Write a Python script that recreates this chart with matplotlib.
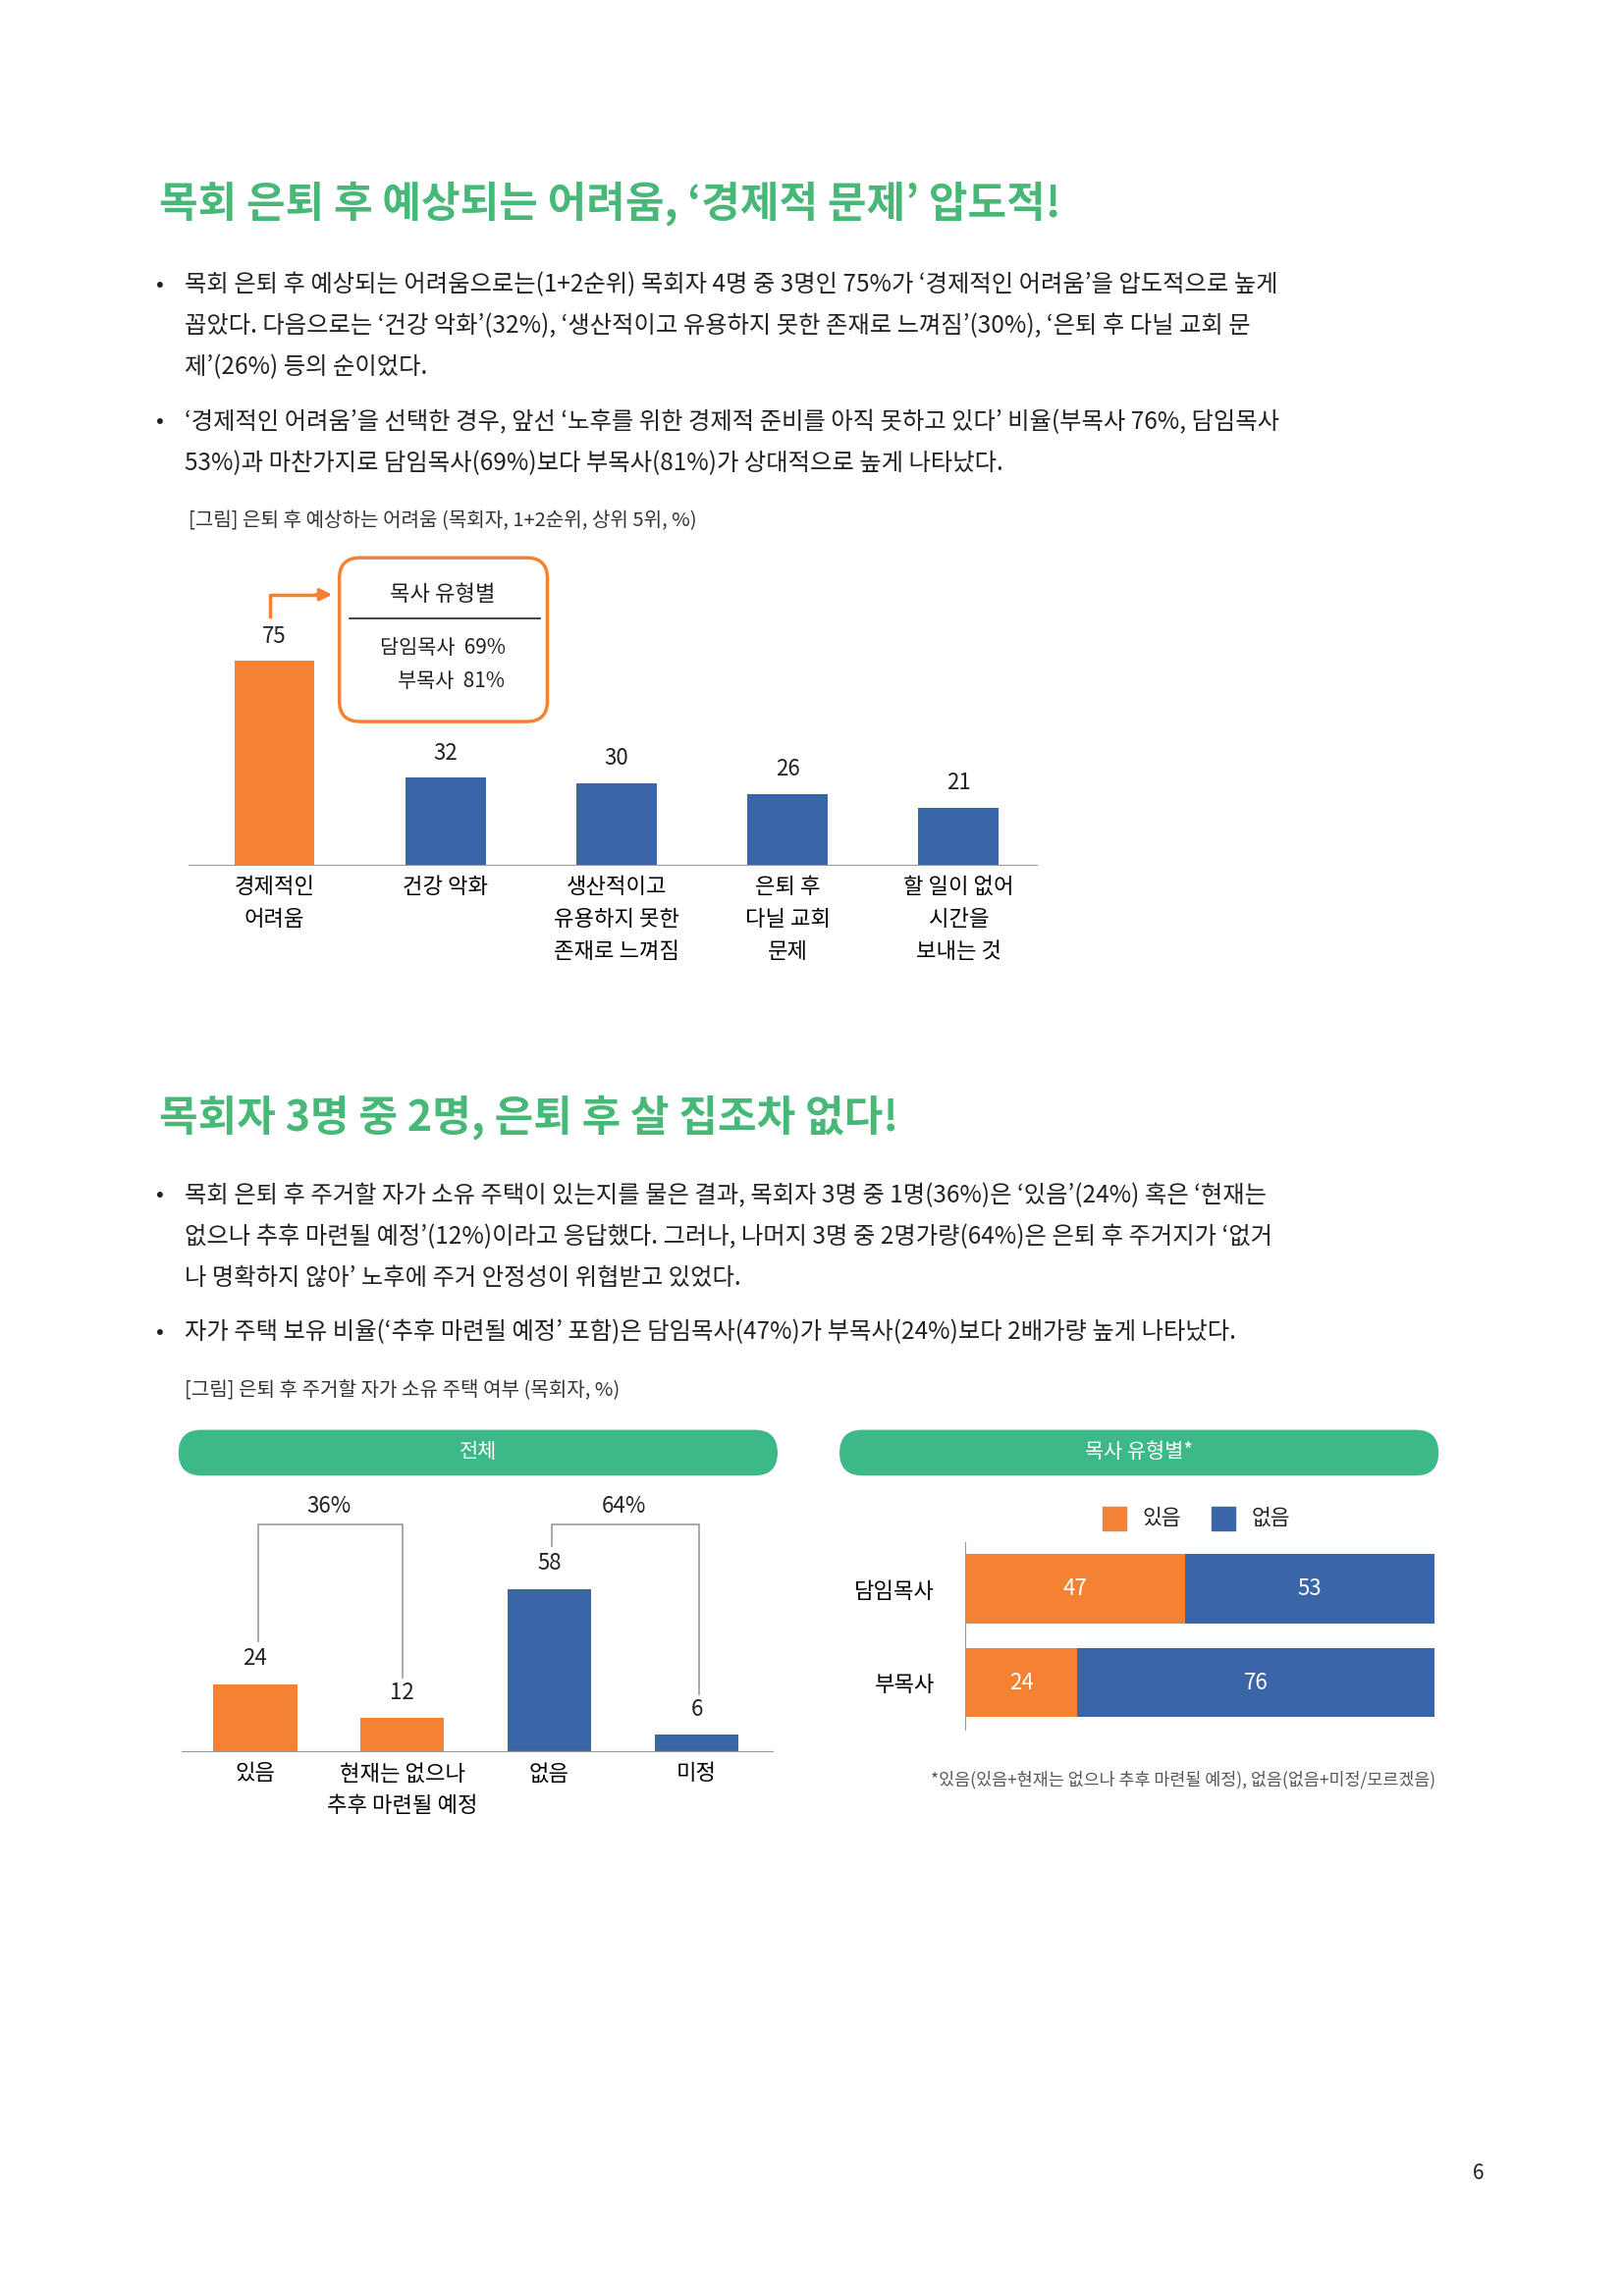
import matplotlib.pyplot as plt
from matplotlib.patches import FancyBboxPatch, Rectangle

plt.rcParams['font.family'] = ['Noto Sans CJK KR', 'Noto Sans CJK JP', 'Noto Sans CJK SC', 'DejaVu Sans']

ORANGE = '#F58232'
BLUE = '#3A66A7'
GREEN = '#3DB887'
TITLE_GREEN = '#47B878'

# chart 1 data
c1_labels = ['경제적인\n어려움', '건강 악화', '생산적이고\n유용하지 못한\n존재로 느껴짐', '은퇴 후\n다닐 교회\n문제', '할 일이 없어\n시간을\n보내는 것']
c1_values = [75, 32, 30, 26, 21]

# chart 2 data
c2_labels = ['있음', '현재는 없으나\n추후 마련될 예정', '없음', '미정']
c2_values = [24, 12, 58, 6]

# chart 3 data
c3_groups = ['담임목사', '부목사']
c3_yes = [47, 24]
c3_no = [53, 76]

W, H = 1100, 1556
fig = plt.figure(figsize=(16.53, 23.39), dpi=100)

def add_ax(l, t, r, b):
    return fig.add_axes([l / W, 1 - b / H, (r - l) / W, (b - t) / H])

# overlay in page coordinates
ov = fig.add_axes([0, 0, 1, 1], zorder=5)
ov.set_xlim(0, W)
ov.set_ylim(H, 0)
ov.axis('off')

def txt(x, y, s, size=19, **kw):
    kw.setdefault('va', 'center')
    kw.setdefault('color', '#222222')
    ov.text(x, y, s, fontsize=size, **kw)

# ---- section 1
txt(108, 138, '목회 은퇴 후 예상되는 어려움, ‘경제적 문제’ 압도적!', size=31, color=TITLE_GREEN, weight='bold')
b1 = [(193, '목회 은퇴 후 예상되는 어려움으로는(1+2순위) 목회자 4명 중 3명인 75%가 ‘경제적인 어려움’을 압도적으로 높게', True),
      (221, '꼽았다. 다음으로는 ‘건강 악화’(32%), ‘생산적이고 유용하지 못한 존재로 느껴짐’(30%), ‘은퇴 후 다닐 교회 문', False),
      (249, '제’(26%) 등의 순이었다.', False),
      (286, '‘경제적인 어려움’을 선택한 경우, 앞선 ‘노후를 위한 경제적 준비를 아직 못하고 있다’ 비율(부목사 76%, 담임목사', True),
      (314, '53%)과 마찬가지로 담임목사(69%)보다 부목사(81%)가 상대적으로 높게 나타났다.', False)]
for y, s, bullet in b1:
    if bullet:
        txt(106, y, '•', size=17)
    txt(125, y, s, size=17.5)
txt(128, 353, '[그림] 은퇴 후 예상하는 어려움 (목회자, 1+2순위, 상위 5위, %)', size=14.5, color='#333333')

ax1 = add_ax(128, 402, 703, 586)
x1 = range(len(c1_values))
ax1.bar(x1, c1_values, width=0.47, color=[ORANGE] + [BLUE] * 4)
ax1.set_xlim(-0.5, 4.46)
ax1.set_ylim(0, 100)
for i, v in zip(x1, c1_values):
    ax1.text(i, v + 5, str(v), ha='center', va='bottom', fontsize=16, color='#222222')
ax1.set_yticks([])
ax1.set_xticks(list(x1))
ax1.set_xticklabels(c1_labels, fontsize=16, linespacing=1.55, va='top')
ax1.tick_params(axis='x', length=0, pad=8)
for s in ['top', 'left', 'right']:
    ax1.spines[s].set_visible(False)
ax1.spines['bottom'].set_color('#999999')

ov.add_patch(FancyBboxPatch((230, 378), 141, 111, boxstyle='round,pad=0,rounding_size=14',
                            fill=False, ec=ORANGE, lw=2.5))
txt(300, 403, '목사 유형별', size=16, ha='center')
ov.plot([237, 366], [419, 419], color='#333333', lw=1.3)
txt(300, 439, '담임목사  69%', size=15, ha='center')
txt(306, 462, '부목사  81%', size=15, ha='center')
ov.plot([183, 183, 214], [418, 403, 403], color=ORANGE, lw=2.5)
ov.annotate('', xy=(227, 403), xytext=(212, 403),
            arrowprops=dict(arrowstyle='-|>', color=ORANGE, lw=2.5, mutation_scale=18))

# ---- section 2
txt(108, 757, '목회자 3명 중 2명, 은퇴 후 살 집조차 없다!', size=31, color=TITLE_GREEN, weight='bold')
b2 = [(810, '목회 은퇴 후 주거할 자가 소유 주택이 있는지를 물은 결과, 목회자 3명 중 1명(36%)은 ‘있음’(24%) 혹은 ‘현재는', True),
      (838, '없으나 추후 마련될 예정’(12%)이라고 응답했다. 그러나, 나머지 3명 중 2명가량(64%)은 은퇴 후 주거지가 ‘없거', False),
      (866, '나 명확하지 않아’ 노후에 주거 안정성이 위협받고 있었다.', False),
      (903, '자가 주택 보유 비율(‘추후 마련될 예정’ 포함)은 담임목사(47%)가 부목사(24%)보다 2배가량 높게 나타났다.', True)]
for y, s, bullet in b2:
    if bullet:
        txt(106, y, '•', size=17)
    txt(125, y, s, size=17.5)
txt(125, 942, '[그림] 은퇴 후 주거할 자가 소유 주택 여부 (목회자, %)', size=14.5, color='#333333')

for l, r, s in [(121, 527, '전체'), (569, 975, '목사 유형별*')]:
    ov.add_patch(FancyBboxPatch((l, 969), r - l, 31, boxstyle='round,pad=0,rounding_size=15.5',
                                fc=GREEN, ec='none'))
    txt((l + r) / 2, 984, s, size=15, ha='center', color='white')

ax2 = add_ax(123, 997, 524, 1187)
x2 = range(len(c2_values))
ax2.bar(x2, c2_values, width=0.57, color=[ORANGE, ORANGE, BLUE, BLUE])
ax2.set_xlim(-0.5, 3.52)
ax2.set_ylim(0, 100)
for i, v in zip(x2, c2_values):
    ax2.text(i, v + 5, str(v), ha='center', va='bottom', fontsize=16, color='#222222')
ax2.set_yticks([])
ax2.set_xticks(list(x2))
ax2.set_xticklabels(c2_labels, fontsize=16, linespacing=1.55, va='top')
ax2.tick_params(axis='x', length=0, pad=8)
for s in ['top', 'left', 'right']:
    ax2.spines[s].set_visible(False)
ax2.spines['bottom'].set_color('#999999')

# brackets
ov.plot([175, 175, 273, 273], [1112, 1033, 1033, 1137], color='#999999', lw=1.2)
txt(223, 1021, '36%', size=16, ha='center')
ov.plot([374, 374, 474, 474], [1048, 1033, 1033, 1148], color='#999999', lw=1.2)
txt(423, 1021, '64%', size=16, ha='center')

ax3 = add_ax(654, 1045, 972, 1172)
y3 = [0, 1]
ax3.barh(y3, c3_yes, height=0.74, color=ORANGE)
ax3.barh(y3, c3_no, left=c3_yes, height=0.74, color=BLUE)
for i in y3:
    ax3.text(c3_yes[i] / 2, i, str(c3_yes[i]), ha='center', va='center', color='white', fontsize=16)
    ax3.text(c3_yes[i] + c3_no[i] / 2, i, str(c3_no[i]), ha='center', va='center', color='white', fontsize=16)
ax3.set_xlim(0, 100)
ax3.set_ylim(1.5, -0.5)
ax3.set_xticks([])
ax3.set_yticks(y3)
ax3.set_yticklabels(c3_groups, fontsize=16)
ax3.tick_params(axis='y', length=0, pad=22)
for s in ['top', 'bottom', 'right']:
    ax3.spines[s].set_visible(False)
ax3.spines['left'].set_color('#999999')

ov.add_patch(Rectangle((747, 1021), 16, 16, color=ORANGE))
txt(774, 1029, '있음', size=15.5)
ov.add_patch(Rectangle((821, 1021), 16, 16, color=BLUE))
txt(848, 1029, '없음', size=15.5)
txt(973, 1206, '*있음(있음+현재는 없으나 추후 마련될 예정), 없음(없음+미정/모르겠음)', size=12.5,
    ha='right', color='#555555')

txt(1002, 1473, '6', size=15, ha='center')

fig.savefig('out.png', dpi=100)
